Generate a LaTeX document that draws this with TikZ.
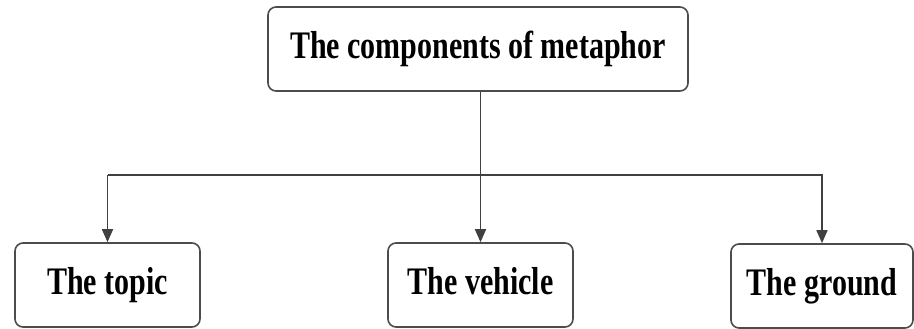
\documentclass[tikz,border=0pt]{standalone}
\usepackage{fontspec}
\setmainfont{Liberation Serif}
\usetikzlibrary{arrows.meta}
\newcommand{\tallbf}[1]{\scalebox{1}[1.3]{\bfseries\strut #1}}
\tikzset{
	partbox/.style={draw=black!70,line width=1.6pt,rounded corners=8pt,fill=white,
		minimum height=84pt,inner sep=0pt,font=\fontsize{30}{36}\selectfont},
	link/.style={draw=black!75,line width=1.6pt}
}
\begin{document}
\begin{tikzpicture}[x=1pt,y=-1pt,>={Triangle[width=11pt,length=13pt]}]
	\useasboundingbox (0,0) rectangle (914,329);
	\node[partbox,minimum width=420pt] (meta) at (478,49) {\tallbf{The components of metaphor}};
	\node[partbox,minimum width=185pt] (topic) at (107.5,285) {\tallbf{The topic}};
	\node[partbox,minimum width=185pt] (vehicle) at (480.5,285) {\tallbf{The vehicle}};
	\node[partbox,minimum width=182pt] (ground) at (822,286) {\tallbf{The ground}};
	\coordinate (bus) at (0,175);
	\draw[link,->] (meta.south-|vehicle.north) -- (vehicle.north);
	\draw[link,->] (topic.north|-bus) -- (ground.north|-bus) -- (ground.north);
	\draw[link,->] (topic.north|-bus) -- (topic.north);
\end{tikzpicture}
\end{document}
